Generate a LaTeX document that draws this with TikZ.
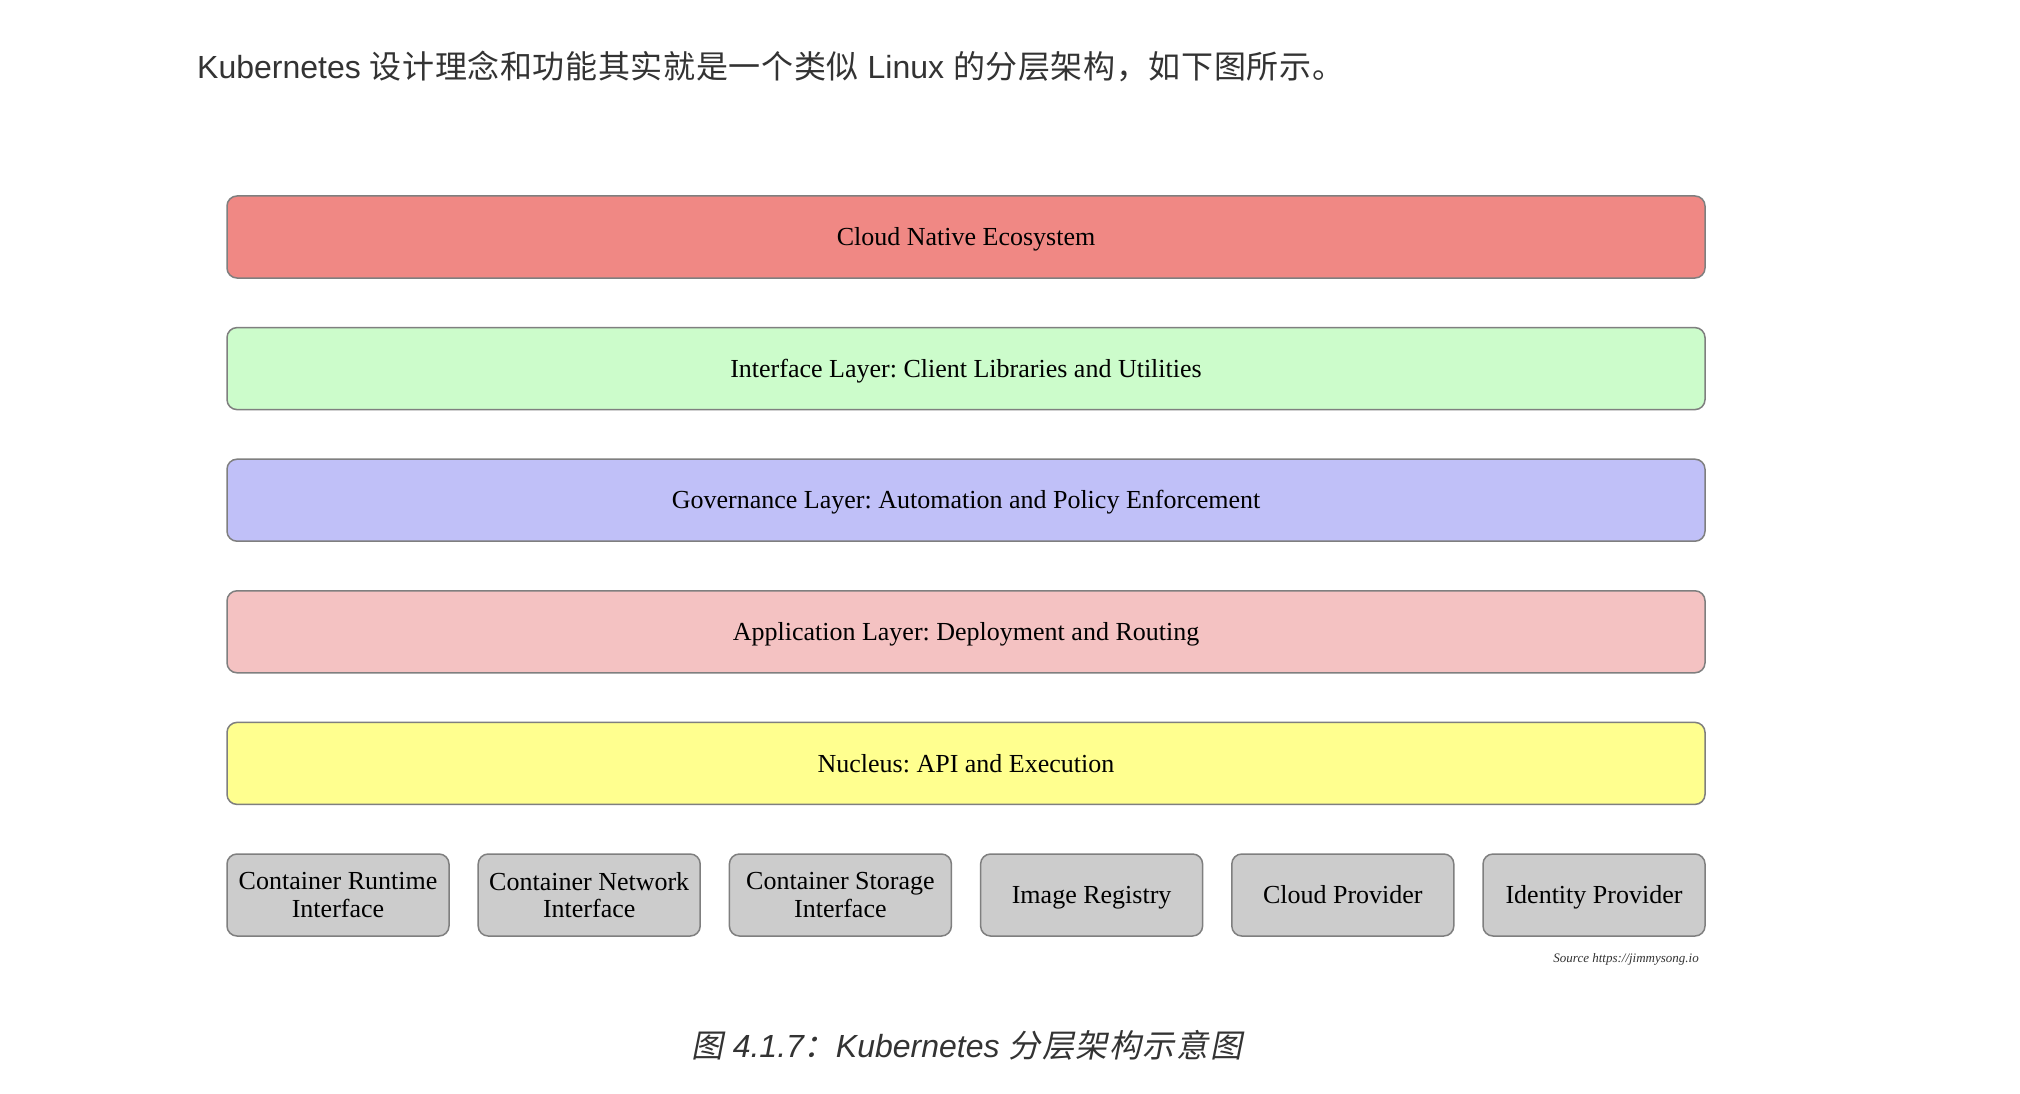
\documentclass[tikz,border=0pt]{standalone}
\usepackage{fontspec}
\setmainfont{Liberation Serif}
\newfontfamily\latsans{Liberation Sans}
\newfontfamily\cjk{Noto Sans CJK SC}[LetterSpace=2]
\newfontfamily\cjkit{Noto Sans CJK SC}[FakeSlant=0.2, LetterSpace=5]
\frenchspacing
\definecolor{ecored}{HTML}{F08884}
\definecolor{ifgreen}{HTML}{CCFCCB}
\definecolor{govblue}{HTML}{C0C0F8}
\definecolor{apppink}{HTML}{F4C2C2}
\definecolor{nucyellow}{HTML}{FFFF8F}
\definecolor{extgray}{HTML}{CCCCCC}
\definecolor{edgegray}{HTML}{7F7F7F}
\definecolor{textgray}{HTML}{333333}
\tikzset{
  layerbox/.style={draw=edgegray, line width=1.5pt, rounded corners=10pt,
    minimum width=1478pt, minimum height=82pt, inner sep=0pt,
    text height=17.2pt, text depth=0pt,
    font=\fontsize{26}{28}\selectfont, text=black},
  extbox/.style={draw=edgegray, line width=1.5pt, rounded corners=10pt,
    fill=extgray, minimum width=222pt, minimum height=82pt, inner sep=0pt,
    align=center, font=\fontsize{26}{27.3}\selectfont, text=black},
  extsingle/.style={extbox, text height=17.2pt, text depth=0pt},
}
\begin{document}
\begin{tikzpicture}[x=1pt,y=-1pt]
\useasboundingbox[fill=white] (0,0) rectangle (2020,1094);
\node[anchor=base west, inner sep=0pt, text=textgray, font=\latsans\fontsize{32}{36}\selectfont] (intro) at (197,79)
  {Kubernetes {\cjk 设计理念和功能其实就是一个类似} Linux {\cjk 的分层架构，如下图所示。}};
\node[layerbox, fill=ecored]   (eco)  at (966,237)   {Cloud Native Ecosystem};
\node[layerbox, fill=ifgreen]  (intf) at (966,368.6) {Interface Layer: Client Libraries and Utilities};
\node[layerbox, fill=govblue]  (gov)  at (966,500.2) {Governance Layer: Automation and Policy Enforcement};
\node[layerbox, fill=apppink]  (app)  at (966,631.8) {Application Layer: Deployment and Routing};
\node[layerbox, fill=nucyellow](nuc)  at (966,763.4) {Nucleus: API and Execution};
\node[extbox] (cri) at (338,895)    {Container Runtime\\Interface};
\node[extbox] (cni) at (589.2,895)  {Container Network\\Interface};
\node[extbox] (csi) at (840.4,895)  {Container Storage\\Interface};
\node[extsingle] (reg) at (1091.6,895) {Image Registry};
\node[extsingle] (cp)  at (1342.8,895) {Cloud Provider};
\node[extsingle] (idp) at (1594,895)   {Identity Provider};
\node[anchor=east, inner sep=0pt, text=textgray, font=\itshape\fontsize{13}{15}\selectfont] (src) at (1699,959)
  {Source https://jimmysong.io};
\node[anchor=base, inner sep=0pt, text=textgray, font=\latsans\itshape\fontsize{32}{36}\selectfont] (cap) at (967,1057)
  {{\cjkit 图} 4.1.7{\cjkit ：}Kubernetes {\cjkit 分层架构示意图}};
\end{tikzpicture}
\end{document}
